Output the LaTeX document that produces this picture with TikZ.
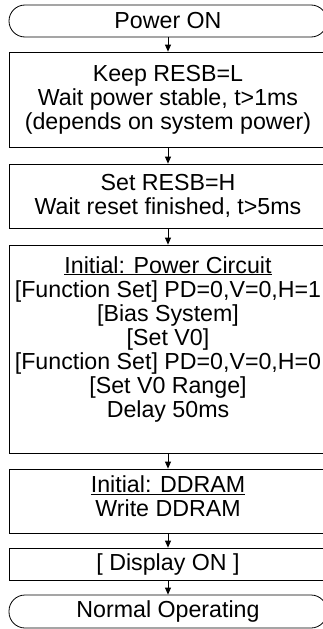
\documentclass[tikz,border=0pt]{standalone}
\usepackage{fontspec}
\setmainfont{Liberation Sans}
\usetikzlibrary{arrows.meta}
\newcommand\flowfs{\fontsize{23.2}{24}\selectfont}
\begin{document}
\begin{tikzpicture}[x=1pt,y=1pt,
  box/.style={draw=black, line width=0.8pt, minimum width=318pt, inner sep=0pt, align=center, font=\flowfs},
  term/.style={box, rounded corners=16pt},
  txt/.style={inner sep=0pt, align=center, font=\flowfs},
  arr/.style={-{Triangle[length=7pt,width=6pt]}, line width=0.8pt}]
\useasboundingbox (0,0) rectangle (323,-629);
\clip (0,0) rectangle (323,-629);
\node[term, minimum height=32pt] (pwr) at (168,-21) {Power ON};
\node[box, minimum height=95pt] (keep) at (168,-99.5) {Keep RESB=L\\Wait power stable, t>1ms\\(depends on system power)};
\node[box, minimum height=64pt] (set) at (168,-196) {Set RESB=H\\Wait reset finished, t>5ms};
\node[box, minimum height=208pt] (init) at (168,-349) {};
\node[txt] (initt) at (168,-339) {\underline{Initial: Power Circuit}\\{[Function Set]} PD=0,V=0,H=1\\{[Bias System]}\\{[Set V0]}\\{[Function Set]} PD=0,V=0,H=0\\{[Set V0 Range]}\\Delay 50ms};
\node[box, minimum height=64pt] (ddram) at (168,-501) {};
\node[txt] (ddramt) at (168,-496) {\underline{Initial: DDRAM}\\Write DDRAM};
\node[box, minimum height=32pt] (disp) at (168,-564) {[ Display ON ]};
\node[term, minimum height=33pt] (norm) at (168,-611.5) {Normal Operating};
\draw[arr] (pwr) -- (keep);
\draw[arr] (keep) -- (set);
\draw[arr] (set) -- (init);
\draw[arr] (init) -- (ddram);
\draw[arr] (ddram) -- (disp);
\draw[arr] (disp) -- (norm);
\end{tikzpicture}
\end{document}
